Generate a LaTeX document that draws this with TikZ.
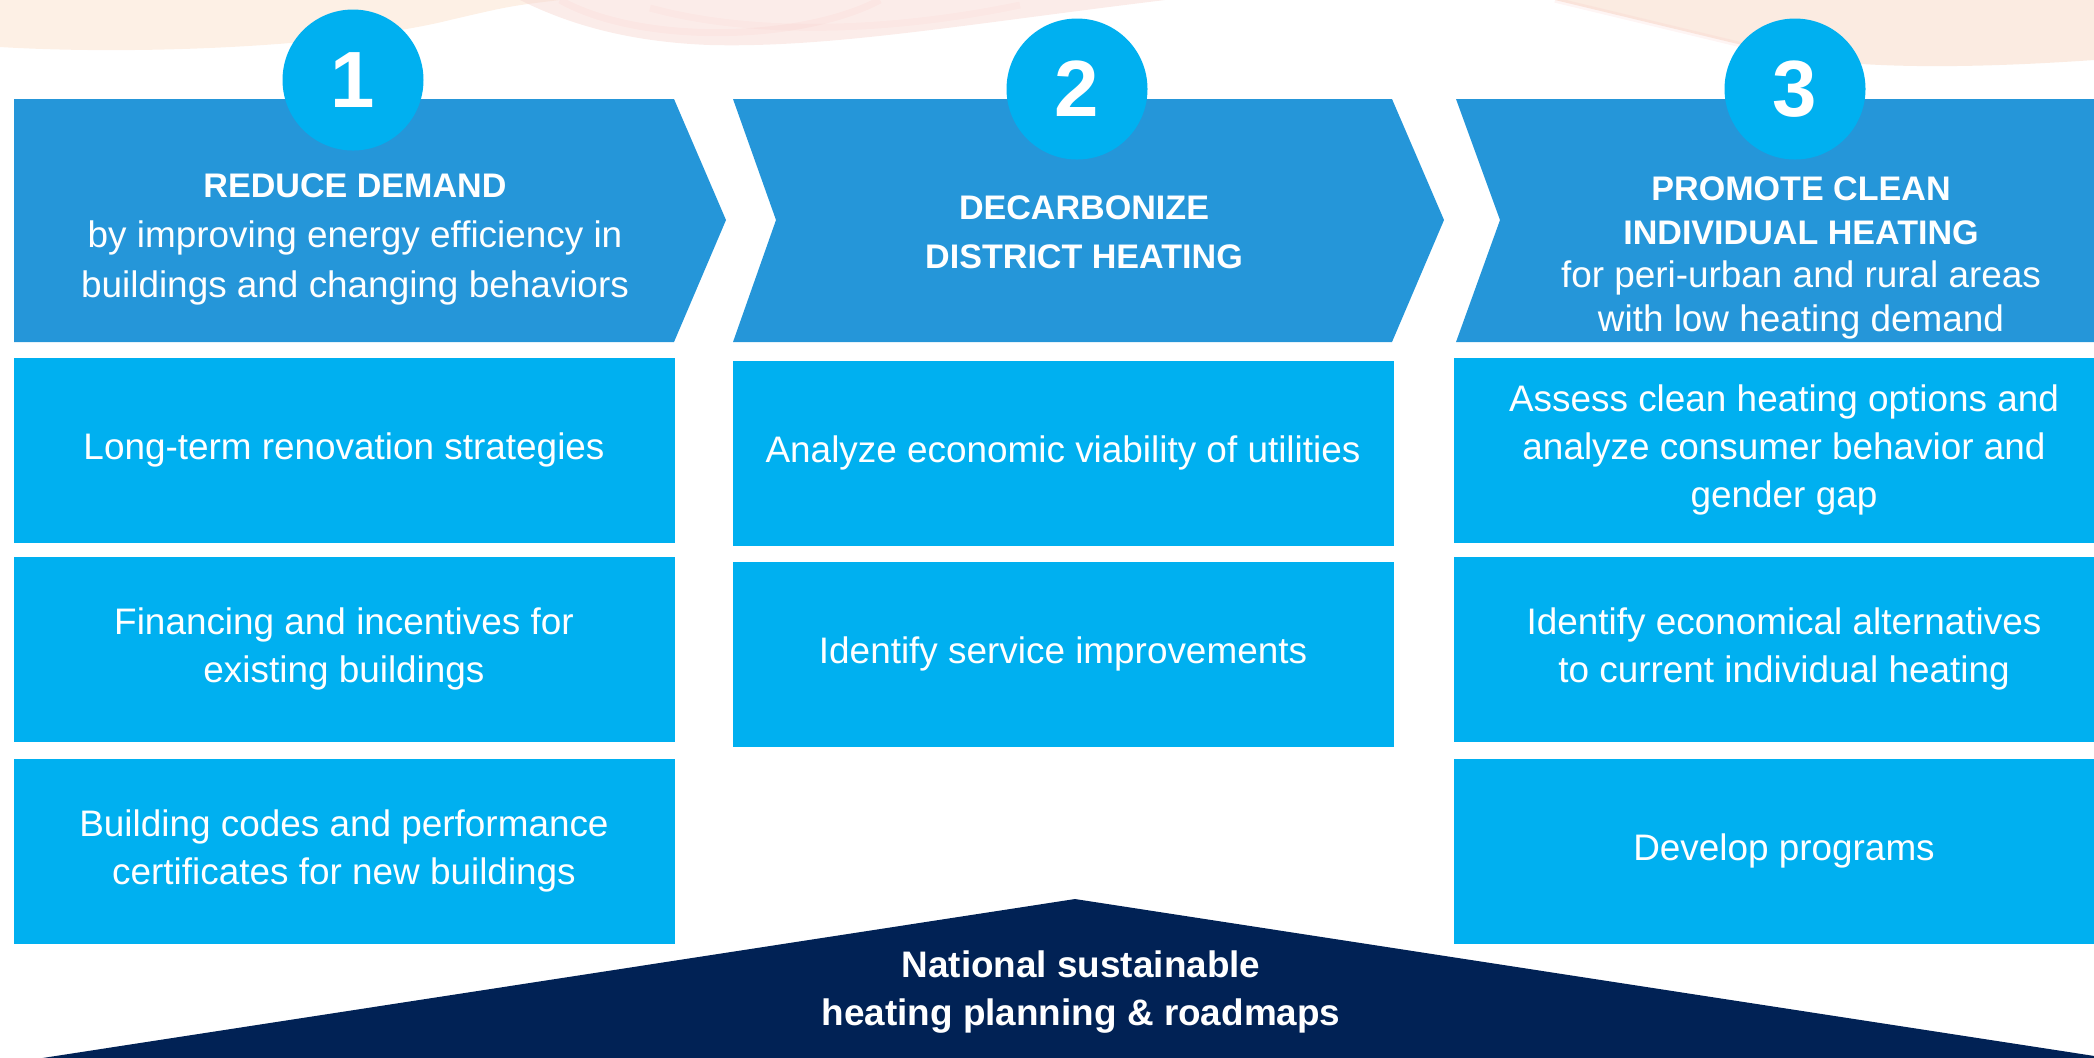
\documentclass[tikz,border=0pt]{standalone}
\usepackage{fontspec}
\setmainfont{Liberation Sans}
\usepackage{tikz}

\definecolor{chevblue}{RGB}{37,150,217}
\definecolor{boxcyan}{RGB}{0,176,240}
\definecolor{navy}{RGB}{1,34,85}
\definecolor{peach}{RGB}{253,240,229}
\definecolor{blush}{RGB}{247,218,212}

\tikzset{
  actbox/.style={rectangle,fill=boxcyan,text=white,align=center,
    minimum width=66.1mm,minimum height=18.5mm,inner sep=0pt,
    font=\fontsize{10.5}{13.7}\selectfont},
  headtext/.style={text=white,align=center,inner sep=0pt},
  stepnum/.style={circle,fill=boxcyan,text=white,minimum size=14.1mm,inner sep=0pt,
    font=\fontsize{22.7}{24}\selectfont\bfseries},
}

\begin{document}
\begin{tikzpicture}[x=0.1mm,y=-0.1mm]
      \useasboundingbox (0,0) rectangle (2094,1057);
      \clip (0,0) rectangle (2094,1057);
      % soft swirl along the top edge
      \fill[peach] (0,0) -- (0,47) .. controls (150,56) and (350,45) .. (450,20) .. controls (510,6) .. (560,0) -- cycle;
      \fill[blush,opacity=0.5] (520,0) .. controls (570,25) and (630,42) .. (710,45) .. controls (830,48) and (960,25) .. (1165,0) -- cycle;
      \draw[blush!85!red,opacity=0.12,line width=2pt] (560,0) .. controls (640,45) and (800,42) .. (880,0);
      \draw[blush!85!red,opacity=0.1,line width=2pt] (650,8) .. controls (760,38) and (900,30) .. (1020,5);
      \fill[peach!75!blush] (1555,0) -- (1742,45) .. controls (1810,66) and (1920,72) .. (2094,60) -- (2094,0) -- cycle;
      \draw[blush!85!red,opacity=0.15,line width=1.5pt] (1555,0) -- (1742,45);
      % three chevrons
      \fill[chevblue] (14,99) -- (674,99) -- (726,220) -- (674,342) -- (14,342) -- cycle;
      \fill[chevblue] (733,99) -- (1392,99) -- (1444,220) -- (1392,342) -- (733,342) -- (776,220) -- cycle;
      \fill[chevblue] (1456,99) -- (2115,99) -- (2167,220) -- (2115,342) -- (1456,342) -- (1500,220) -- cycle;
      \node[stepnum] (num1) at (353,80) {1};
      \node[stepnum] (num2) at (1077,89) {2};
      \node[stepnum] (num3) at (1795,89) {3};
      \node[headtext,font=\fontsize{10.5}{14.2}\selectfont] (head1) at (355,239)
        {{\bfseries\fontsize{9.7}{14.2}\selectfont REDUCE DEMAND}\\by improving energy efficiency in\\buildings and changing behaviors};
      \node[headtext,font=\fontsize{9.7}{13.8}\selectfont\bfseries] (head2) at (1084,232)
        {DECARBONIZE\\DISTRICT HEATING};
      \node[headtext,font=\fontsize{10.5}{12.4}\selectfont] (head3) at (1801,258)
        {{\bfseries\fontsize{9.7}{12.4}\selectfont PROMOTE CLEAN}\\{\bfseries\fontsize{9.7}{12.4}\selectfont INDIVIDUAL HEATING}\\for peri-urban and rural areas\\with low heating demand};
      % activity boxes
      \node[actbox] (box11) at (344,450) {Long-term renovation strategies};
      \node[actbox] (box12) at (344,649) {Financing and incentives for\\existing buildings};
      \node[actbox] (box13) at (344,851) {Building codes and performance\\certificates for new buildings};
      \node[actbox] (box21) at (1063,453) {Analyze economic viability of utilities};
      \node[actbox] (box22) at (1063,654) {Identify service improvements};
      \node[actbox] (box31) at (1784,450) {Assess clean heating options and\\analyze consumer behavior and\\gender gap};
      \node[actbox] (box32) at (1784,649) {Identify economical alternatives\\to current individual heating};
      \node[actbox] (box33) at (1784,851) {Develop programs};
      % roof across the base
      \fill[navy] (1075,899) -- (2140,1063) -- (10,1063) -- cycle;
      \node[headtext,font=\fontsize{10.5}{13.4}\selectfont\bfseries] (base) at (1081,992)
        {National sustainable\\heating planning \& roadmaps};
\end{tikzpicture}
\end{document}
